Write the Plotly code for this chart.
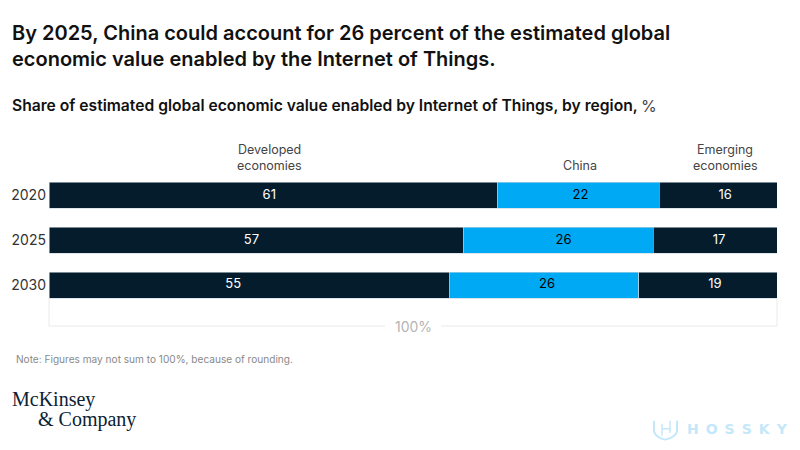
import plotly.graph_objects as go

WIDTH = 800
HEIGHT = 450
FONT = 'Inter'
# plot area in page pixels
LEFT = 49
RIGHT = 777
TOP = 172.5
BOTTOM = 326

years = ['2020', '2025', '2030']
developed = [61, 57, 55]
china = [22, 26, 26]
emerging = [16, 17, 19]

NAVY = '#051C2C'
BLUE = '#00A9F4'
BRACKET = '#EAEAEA'
WATERMARK = '#C4E8FA'

# the labels in the original don't sit dead centre, pixel nudges per year
developed_nudge = [-4, -5, -16]
china_nudge = [2, 5, 3]
emerging_nudge = [7, 4, 7]


# paper coords are relative to the plot area, so convert from page pixels
def px_x(x):
    return (x - LEFT) / (RIGHT - LEFT)


def px_y(y):
    return 1 - (y - TOP) / (BOTTOM - TOP)


def add_text(fig, x, y, text, size, color='#222222', family=FONT, anchor='left', weight=400):
    # x, y are page pixels, y is the middle of the line
    fig.add_annotation(x=px_x(x), y=px_y(y), xref='paper', yref='paper', text=text,
                       showarrow=False, xanchor=anchor, yanchor='middle', align=anchor, borderpad=0,
                       font=dict(family=family, size=size, color=color, weight=weight))


def add_bar(fig, values, name, color):
    fig.add_trace(go.Bar(y=years, x=values, name=name, orientation='h',
                         marker=dict(color=color, line=dict(color='#C9D6DE', width=0.6))))


def add_bar_labels(fig, lower, values, upper, nudges, color):
    # lower/upper are what is stacked before and after, the axis is normalised to 100
    xs = []
    for i in range(len(years)):
        total = lower[i] + values[i] + upper[i]
        xs.append((lower[i] + values[i] / 2) / total * 100 + nudges[i] * 100 / (RIGHT - LEFT))
    fig.add_trace(go.Scatter(x=xs, y=years, mode='text', text=[str(v) for v in values],
                             textposition='middle center', hoverinfo='skip',
                             textfont=dict(family=FONT, size=13, color=color)))


fig = go.Figure()
add_bar(fig, developed, 'Developed economies', NAVY)
add_bar(fig, china, 'China', BLUE)
add_bar(fig, emerging, 'Emerging economies', NAVY)

zeros = [0, 0, 0]
add_bar_labels(fig, zeros, developed, [c + e for c, e in zip(china, emerging)], developed_nudge, '#FFFFFF')
add_bar_labels(fig, developed, china, emerging, china_nudge, '#000000')
add_bar_labels(fig, [d + c for d, c in zip(developed, china)], emerging, zeros, emerging_nudge, '#FFFFFF')

fig.update_layout(
    width=WIDTH, height=HEIGHT, barmode='stack', barnorm='percent', bargap=0.42,
    showlegend=False, plot_bgcolor='#FFFFFF', paper_bgcolor='#FFFFFF',
    margin=dict(l=LEFT, r=WIDTH - RIGHT, t=TOP, b=HEIGHT - BOTTOM),
    font=dict(family=FONT),
)
fig.update_xaxes(range=[0, 100], showticklabels=False, showgrid=False, zeroline=False,
                 showline=False, ticks='')
fig.update_yaxes(type='category', range=[2.91, -0.5], showgrid=False, zeroline=False,
                 showline=False, ticks='', ticklabelstandoff=2,
                 tickfont=dict(family=FONT, size=14, color='#333333'))

# bracket under the bars, with a gap for the 100% label
for x0, y0, x1, y1 in [(49, 298, 49, 326), (777, 298, 777, 326), (49, 326, 385, 326), (441, 326, 777, 326)]:
    fig.add_shape(type='line', xref='paper', yref='paper', x0=px_x(x0), x1=px_x(x1),
                  y0=px_y(y0), y1=px_y(y1), line=dict(color=BRACKET, width=1))

add_text(fig, 11, 32, 'By 2025, China could account for 26 percent of the estimated global', 20, '#111111', weight=600)
add_text(fig, 11, 58, 'economic value enabled by the Internet of Things.', 20, '#111111', weight=600)
add_text(fig, 11, 105, 'Share of estimated global economic value enabled by Internet of Things, by region,',
         15.65, '#111111', weight=600)
add_text(fig, 640, 105, '%', 16, '#444444')

add_text(fig, 269, 149, 'Developed', 12.5, '#444444', anchor='center')
add_text(fig, 269, 165, 'economies', 12.5, '#444444', anchor='center')
add_text(fig, 580, 165, 'China', 12.5, '#444444', anchor='center')
add_text(fig, 725, 149, 'Emerging', 12.5, '#444444', anchor='center')
add_text(fig, 725, 165, 'economies', 12.5, '#444444', anchor='center')

add_text(fig, 413, 327, '100%', 14, '#B5B5B5', anchor='center')
add_text(fig, 15, 359, 'Note: Figures may not sum to 100%, because of rounding.', 10.1, '#8A8A8A')

add_text(fig, 11, 400, 'McKinsey', 20, '#0B2133', 'Liberation Serif')
add_text(fig, 37, 420, '&amp; Company', 20, '#0B2133', 'Liberation Serif')

# watermark: shield and wide-set name
add_text(fig, 686, 429, '<b>H\u2002O\u2002S\u2002S\u2002K\u2002Y</b>', 14, WATERMARK, 'DejaVu Sans')
fig.add_shape(type='path', xref='paper', yref='paper',
              path=f'M {px_x(654)} {px_y(421)} L {px_x(654)} {px_y(432)} Q {px_x(656)} {px_y(438)} {px_x(665)} {px_y(440)} '
                   f'Q {px_x(675)} {px_y(438)} {px_x(677)} {px_y(432)} L {px_x(677)} {px_y(421)}',
              line=dict(color=WATERMARK, width=2))
fig.add_shape(type='path', xref='paper', yref='paper',
              path=f'M {px_x(662)} {px_y(424)} L {px_x(662)} {px_y(436)} M {px_x(662)} {px_y(429)} L {px_x(670)} {px_y(429)} '
                   f'M {px_x(670)} {px_y(421)} L {px_x(670)} {px_y(433)}',
              line=dict(color=WATERMARK, width=1.5))

# drop the page's default 8px margin so pixels line up
fig.write_html('out.html', config={'displayModeBar': False},
               post_script="document.body.style.margin='0';")
